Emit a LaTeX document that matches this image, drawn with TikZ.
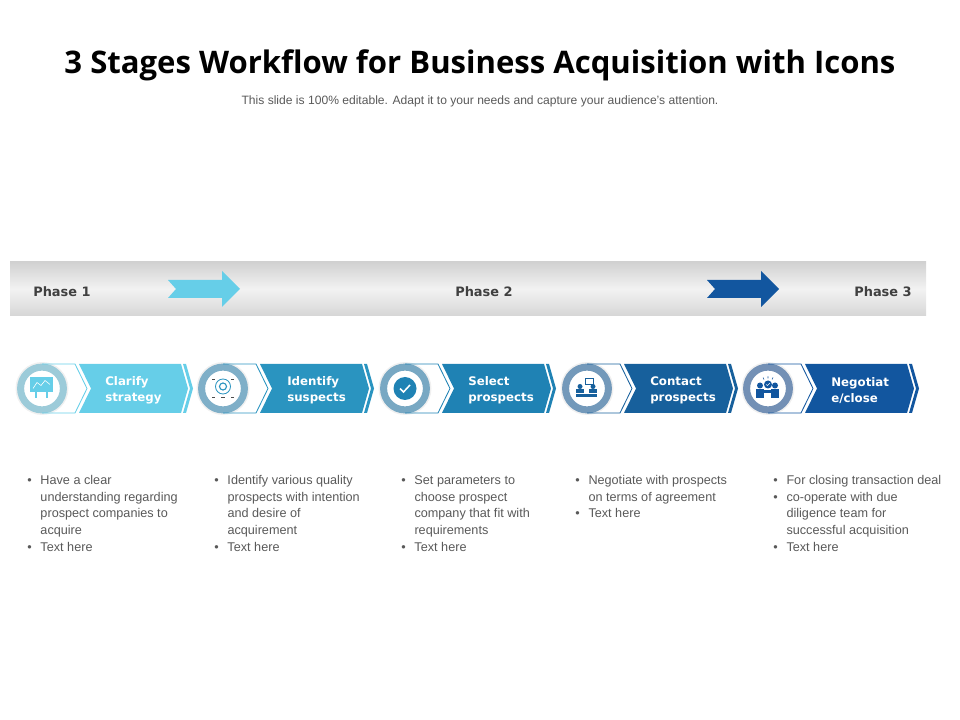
\documentclass[tikz,border=0pt]{standalone}
\usepackage{fontspec}
\setmainfont{Liberation Sans}
\newfontfamily\titlefont{Open Sans}
\newfontfamily\labelfont{DejaVu Sans}

\definecolor{stage1}{HTML}{66CEE8}
\definecolor{stage2}{HTML}{2A94C0}
\definecolor{stage3}{HTML}{1F82B4}
\definecolor{stage4}{HTML}{17609C}
\definecolor{stage5}{HTML}{12569F}
\definecolor{ring1}{HTML}{9CCBD9}
\definecolor{ring2}{HTML}{7FAFC8}
\definecolor{ring3}{HTML}{78A8C3}
\definecolor{ring4}{HTML}{7399BA}
\definecolor{ring5}{HTML}{7390B5}
\definecolor{bodytext}{HTML}{595959}

\newlength{\bltw}
\setlength{\bltw}{9.4pt}
\newcommand{\itm}{\strut\makebox[\bltw][l]{\textbullet}}
\newcommand{\cnt}{\hspace*{\bltw}}

\tikzset{
	phase/.style={font=\labelfont\bfseries\fontsize{9.2}{12}\selectfont, text=black!75, inner sep=0pt},
	steplabel/.style={font=\labelfont\bfseries\fontsize{8.4}{11.6}\selectfont, text=white, align=left, anchor=west, inner sep=0pt},
	list/.style={font=\fontsize{9}{11.85}\selectfont, text=bodytext, align=left, anchor=north west, inner sep=0pt},
	ringnode/.style={circle, line width=5pt, fill=white, minimum size=1.07cm, inner sep=0pt},
}

\begin{document}
\begin{tikzpicture}[x=.025cm, y=-.025cm]
	\useasboundingbox (0, 0) rectangle (960, 720);
	\node [font=\titlefont\bfseries\fontsize{22.1}{28}\selectfont] (title) at (480, 65) {3 Stages Workflow for Business Acquisition with Icons};
	\node [font=\fontsize{8.6}{11}\selectfont, text=bodytext] (subtitle) at (480, 101) {This slide is 100\% editable. Adapt it to your needs and capture your audience's attention.};

	% phase band
	\shade [top color=black!18, bottom color=black!16, middle color=black!5] (10, 262) rectangle (926, 316);
	\node [phase] (phase1) at (62, 292) {Phase 1};
	\node [phase] (phase2) at (484, 292) {Phase 2};
	\node [phase] (phase3) at (883, 292) {Phase 3};
	\fill [stage1] (168, 280) -- (222, 280) -- (222, 271) -- (240, 289) -- (222, 307) -- (222, 298) -- (168, 298) -- (176, 289) -- cycle;
	\fill [stage5] (707, 280) -- (761, 280) -- (761, 271) -- (779, 289) -- (761, 307) -- (761, 298) -- (707, 298) -- (715, 289) -- cycle;

	% stages
	\foreach \i/\cx/\tx/\lab in {1/42/105/{Clarify\\strategy}, 2/223/287/{Identify\\suspects}, 3/405/468/{Select\\prospects}, 4/587/650/{Contact\\prospects}, 5/768/831/{Negotiat\\e/close}} {
		\fill [stage\i] (\cx+37, 364) -- (\cx+139, 364) -- (\cx+146, 388.5) -- (\cx+139, 413) -- (\cx+37, 413) -- (\cx+49, 388.5) -- cycle;
		\fill [stage\i] (\cx+141, 364) -- (\cx+144, 364) -- (\cx+151, 388.5) -- (\cx+144, 413) -- (\cx+141, 413) -- (\cx+148, 388.5) -- cycle;
		\fill [black!6] (\cx, 388.5) circle (26.5);
		\node [ringnode, draw=ring\i] (circle\i) at (\cx, 388.5) {};
		\draw [stage\i, line width=.6pt] (\cx, 364) -- (\cx+33, 364) -- (\cx+45, 388.5) -- (\cx+33, 413) -- (\cx, 413);
		\node [steplabel] (label\i) at (\tx, 390.5) {\lab};
	}

	% icons
	\begin{scope}[shift={(circle1.center)}]
		\fill [stage1] (-12, -11) rectangle (11, 4);
		\draw [white, line width=.4pt] (-9, 0) -- (-5, -6) -- (-1, -3) -- (3, -8) -- (8, -4);
		\draw [stage1, line width=.8pt] (-6, 4) -- (-6, 10) (5, 4) -- (5, 10);
	\end{scope}
	\begin{scope}[shift={(circle2.center)}]
		\draw [stage2, line width=.6pt] (0, -2) circle (7.5);
		\draw [stage2, line width=.8pt] (0, -2) circle (3.5);
		\foreach \sx in {-1, 1} {
			\draw [black!70, line width=.5pt] (\sx*11, -9) -- (\sx*8, -9) (\sx*11, 9) -- (\sx*8, 9);
		}
		\draw [black!70, line width=.5pt] (-2, 9) -- (2, 9);
	\end{scope}
	\begin{scope}[shift={(circle3.center)}]
		\fill [stage3] (0, 0) circle (11.5);
		\draw [white, line width=1.1pt] (-5, 0) -- (-1.5, 3.5) -- (5, -3.5);
	\end{scope}
	\begin{scope}[shift={(circle4.center)}]
		\fill [stage4] (-11, 5.5) rectangle (10, 8.5);
		\foreach \sx in {-7, 6} {
			\fill [stage4] (\sx, -2) circle (2.5);
			\fill [stage4] (\sx-4, 4.5) rectangle (\sx+4, 1);
		}
		\draw [stage4, line width=.5pt, fill=white] (-2, -10) rectangle (6, -4);
	\end{scope}
	\begin{scope}[shift={(circle5.center)}]
		\foreach \sx in {-8, 7} {
			\fill [stage5] (\sx, -3) circle (3);
			\fill [stage5] (\sx-4, 10) rectangle (\sx+4, 1);
		}
		\fill [stage5] (-4, 2) rectangle (3, 5);
		\fill [stage5] (0, -4) circle (4);
		\draw [white, line width=.4pt] (-2, -4) -- (-.5, -3) -- (2, -5.5);
		\draw [stage5, line width=.4pt] (0, -12) -- (0, -10) (-5, -11) -- (-4, -9) (5, -11) -- (4, -9);
	\end{scope}

	% lists
	\node [list] (list1) at (27, 472.5) {\itm Have a clear\\\cnt understanding regarding\\\cnt prospect companies to\\\cnt acquire\\\itm Text here};
	\node [list] (list2) at (214, 472.5) {\itm Identify various quality\\\cnt prospects with intention\\\cnt and desire of\\\cnt acquirement\\\itm Text here};
	\node [list] (list3) at (401, 472.5) {\itm Set parameters to\\\cnt choose prospect\\\cnt company that fit with\\\cnt requirements\\\itm Text here};
	\node [list] (list4) at (575, 472.5) {\itm Negotiate with prospects\\\cnt on terms of agreement\\\itm Text here};
	\node [list] (list5) at (773, 472.5) {\itm For closing transaction deal\\\itm co-operate with due\\\cnt diligence team for\\\cnt successful acquisition\\\itm Text here};
\end{tikzpicture}
\end{document}
